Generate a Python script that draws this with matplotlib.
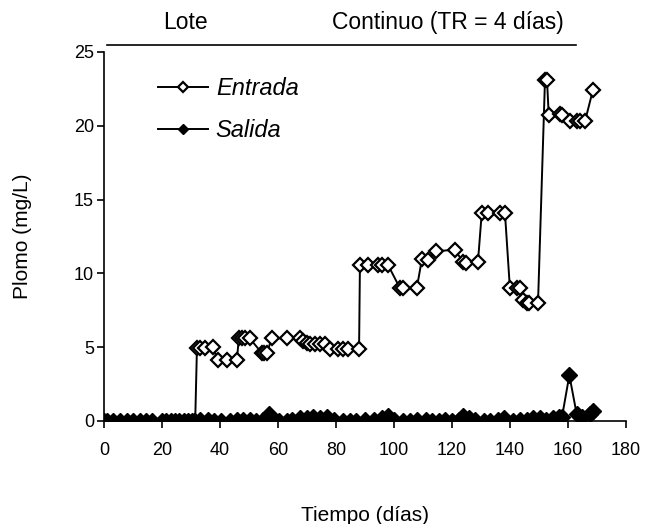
import numpy as np
import matplotlib.pyplot as plt

plt.rcParams['font.family'] = ['Liberation Sans', 'DejaVu Sans']

# Entrada (hollow diamonds)
dias_ent = [31.5, 32.1, 33.1, 34.8, 37.6, 39.3, 42.4, 45.9, 46.5, 47.6, 48.6, 50.3,
            54.5, 55.2, 56.2, 57.9, 63.1, 67.6, 68.6, 70.0, 71.0, 72.8, 74.5, 76.2,
            77.9, 80.7, 82.4, 84.1, 88.0, 88.3, 91.0, 94.5, 95.9, 97.9, 102.1, 103.1,
            107.9, 109.7, 111.7, 114.5, 121.0, 123.8, 124.8, 129.0, 130.3, 132.4,
            136.6, 138.3, 140.0, 142.4, 143.4, 144.5, 145.9, 146.6, 149.7, 152.1,
            152.8, 153.4, 157.2, 157.9, 160.7, 163.1, 164.1, 165.9, 168.6]
plomo_ent = [0.0, 4.95, 4.95, 4.95, 5.0, 4.1, 4.1, 4.1, 5.6, 5.6, 5.6, 5.6,
             4.6, 4.6, 4.6, 5.6, 5.6, 5.6, 5.4, 5.3, 5.2, 5.2, 5.2, 5.2,
             4.9, 4.9, 4.9, 4.9, 4.9, 10.6, 10.6, 10.6, 10.6, 10.6, 9.0, 9.0,
             9.0, 11.0, 10.9, 11.5, 11.6, 10.8, 10.7, 10.8, 14.1, 14.1,
             14.1, 14.1, 9.0, 9.0, 9.0, 8.2, 8.0, 8.0, 8.0, 23.1,
             23.1, 20.7, 20.8, 20.7, 20.3, 20.3, 20.3, 20.3, 22.4]

# Salida (filled diamonds)
dias_sal = [0, 1, 3, 5.5, 8, 10, 12.5, 14.5, 16.5, 20, 21.5, 23, 24.5, 26, 27.5, 29, 30.5,
            33, 36, 38, 40.5, 43.5, 46, 48, 50.5, 52.5, 55, 57,
            60.5, 63, 65, 67.5, 70, 72, 74.5, 77, 79.5, 82.5, 85, 87, 90, 93, 96, 98,
            100, 103, 105.5, 108, 111, 113, 115.5, 117.5,
            120, 122.5, 124, 126, 128, 131, 133, 136, 138, 141, 143.5, 146, 148, 150.5,
            152.5, 155, 157, 158, 160.5, 163, 165, 167.5, 168.6]
plomo_sal = [0, 0, 0, 0, 0, 0, 0, 0, 0, 0, 0, 0, 0, 0, 0, 0, 0,
             0.05, 0.1, 0, 0, 0, 0.05, 0.1, 0.1, 0, 0.1, 0.5,
             0, 0, 0.1, 0.2, 0.2, 0.25, 0.2, 0.25, 0.1, 0, 0, 0, 0.05, 0.1, 0.2, 0.35,
             0.1, 0, 0, 0.1, 0.05, 0, 0, 0.1,
             0, 0.1, 0.35, 0.2, 0.05, 0, 0, 0.1, 0.2, 0, 0.05, 0.1, 0.2, 0.2,
             0.1, 0.2, 0.25, 0.3, 3.1, 0.5, 0.3, 0.5, 0.7]

fig = plt.figure(figsize=(6.49, 5.24), dpi=100)
ax = fig.add_axes([0.160, 0.1966, 0.8044, 0.7042])

ax.plot(dias_ent, plomo_ent, '-', color='black', lw=1.4, marker='D', ms=7.5,
        mfc='white', mec='black', mew=1.6, label='Entrada', zorder=2)
ax.plot(dias_sal, plomo_sal, '-', color='black', lw=1.4, marker='D', ms=8,
        mfc='black', mec='black', label='Salida', zorder=3)

ax.set_xlim(0, 180)
ax.set_ylim(0, 25)
ax.set_xticks(np.arange(0, 181, 20))
ax.set_yticks(np.arange(0, 26, 5))
for s in ['top', 'right']:
    ax.spines[s].set_visible(False)
for s in ['left', 'bottom']:
    ax.spines[s].set_linewidth(1.2)
ax.tick_params(direction='out', length=5, width=1.2, labelsize=13)
ax.tick_params(axis='x', pad=10)
ax.tick_params(axis='y', pad=2)

ax.set_xlabel('Tiempo (días)', fontsize=15, labelpad=34)
ax.set_ylabel('Plomo (mg/L)', fontsize=15, labelpad=30)

leg = ax.legend(loc='upper left', bbox_to_anchor=(0.063, 0.99), frameon=False,
                fontsize=17, handlelength=2.1, handletextpad=0.35, labelspacing=0.8,
                markerscale=0.62)
for t in leg.get_texts():
    t.set_style('italic')

# Fases: Lote / Continuo
ax.plot([1, 162.7], [25.5, 25.5], color='black', lw=1.2, clip_on=False)
ax.text(28, 27.0, 'Lote', fontsize=16.5, ha='center', va='center')
ax.text(118.6, 27.0, 'Continuo (TR = 4 días)', fontsize=16.5, ha='center', va='center')

plt.savefig('out.png', dpi=100)
